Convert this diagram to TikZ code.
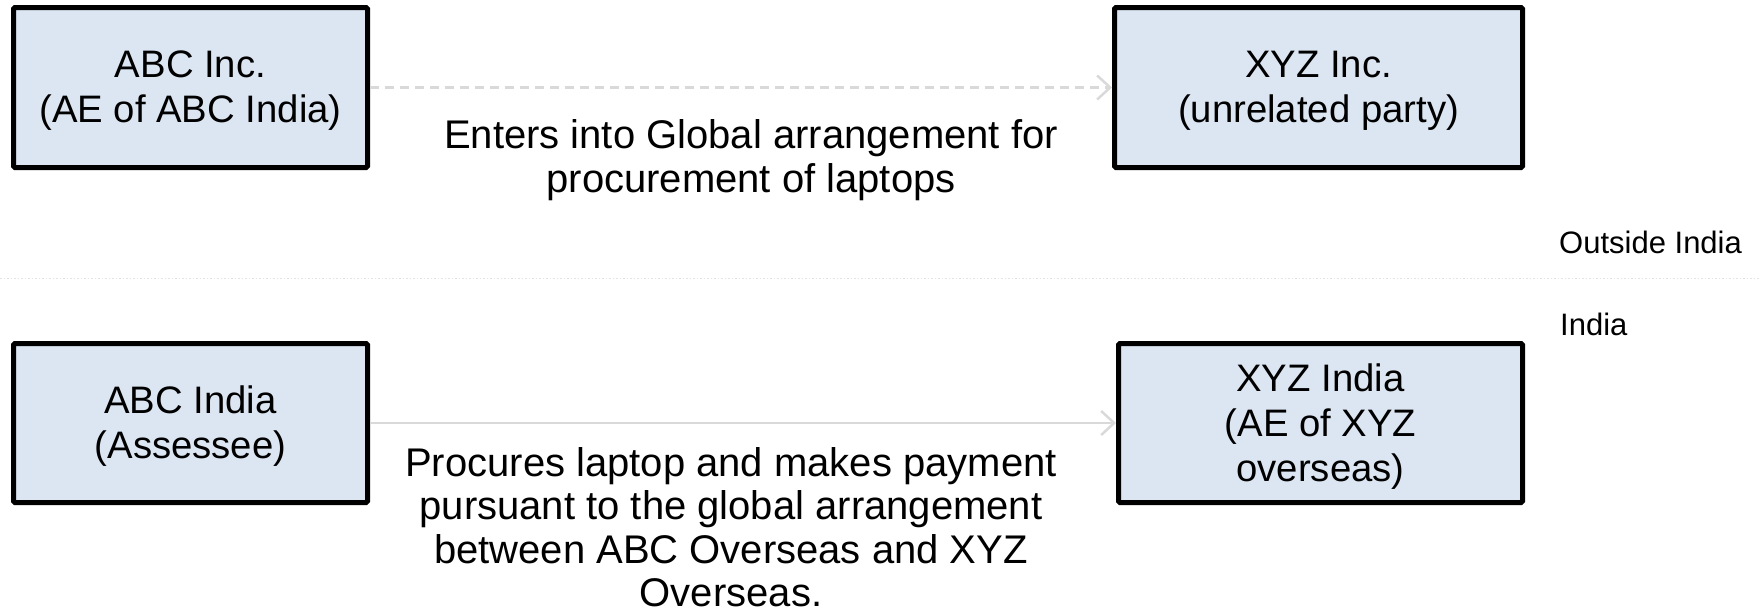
\documentclass[tikz,border=0pt]{standalone}
\usepackage{fontspec}
\setmainfont{Liberation Sans}
\usetikzlibrary{arrows.meta}
\definecolor{boxfill}{HTML}{DCE6F2}
\definecolor{flowgray}{HTML}{D9D9D9}
\definecolor{splitgray}{HTML}{E3E3E3}
\tikzset{
  entity/.style={draw=black, line width=5pt, fill=boxfill, rounded corners=1.5pt,
    inner sep=0pt},
  entitytext/.style={inner sep=0pt, align=center, font=\fontsize{38.3}{45}\selectfont},
  flow/.style={draw=flowgray, line width=2.5pt,
    -{Straight Barb[length=13pt,width=24pt,line width=2.5pt]}},
  dealtext/.style={inner sep=0pt, align=center, font=\fontsize{40}{43.5}\selectfont},
  zonetext/.style={inner sep=0pt, anchor=base west, font=\fontsize{31}{36}\selectfont},
}
\begin{document}
\begin{tikzpicture}[x=1pt, y=-1pt]
  \useasboundingbox (0,0) rectangle (1761,614);

  % boundary between the two jurisdictions
  \coordinate (splitL) at (0,278);
  \coordinate (splitR) at (1761,278);
  \draw[splitgray, line width=1pt, dash pattern=on 1.5pt off 2pt] (splitL) -- (splitR);
  \node[zonetext] (outside) at (1559,253) {Outside India};
  \node[zonetext] (inside) at (1560,335) {India};

  % entities
  \node[entity, minimum width=354pt, minimum height=160pt] (abcinc) at (190.5,87.5) {};
  \node[entity, minimum width=408pt, minimum height=160pt] (xyzinc) at (1318.5,87.5) {};
  \node[entity, minimum width=354pt, minimum height=159pt] (abcindia) at (190.5,423) {};
  \node[entity, minimum width=404pt, minimum height=159pt] (xyzindia) at (1320.5,423) {};

  \node[entitytext] (abcinctext) at ([yshift=-3.5pt]abcinc.center)
    {ABC Inc.\\(AE of ABC India)};
  \node[entitytext] (xyzinctext) at ([yshift=-3.5pt]xyzinc.center)
    {XYZ Inc.\\(unrelated party)};
  \node[entitytext] (abcindiatext) at ([yshift=-3pt]abcindia.center)
    {ABC India\\(Assessee)};
  \node[entitytext] (xyzindiatext) at ([yshift=-4pt]xyzindia.center)
    {XYZ India\\(AE of XYZ\\overseas)};

  % transactions
  \draw[flow, dash pattern=on 9pt off 6pt] (abcinc.east) -- (xyzinc.west);
  \draw[flow] (abcindia.east) -- (xyzindia.west);

  \node[dealtext] (globaldeal) at (751,160)
    {Enters into Global arrangement for\\procurement of laptops};
  \node[dealtext] (purchase) at (731,527)
    {Procures laptop and makes payment\\pursuant to the global arrangement\\between ABC Overseas and XYZ\\Overseas.};
\end{tikzpicture}
\end{document}
